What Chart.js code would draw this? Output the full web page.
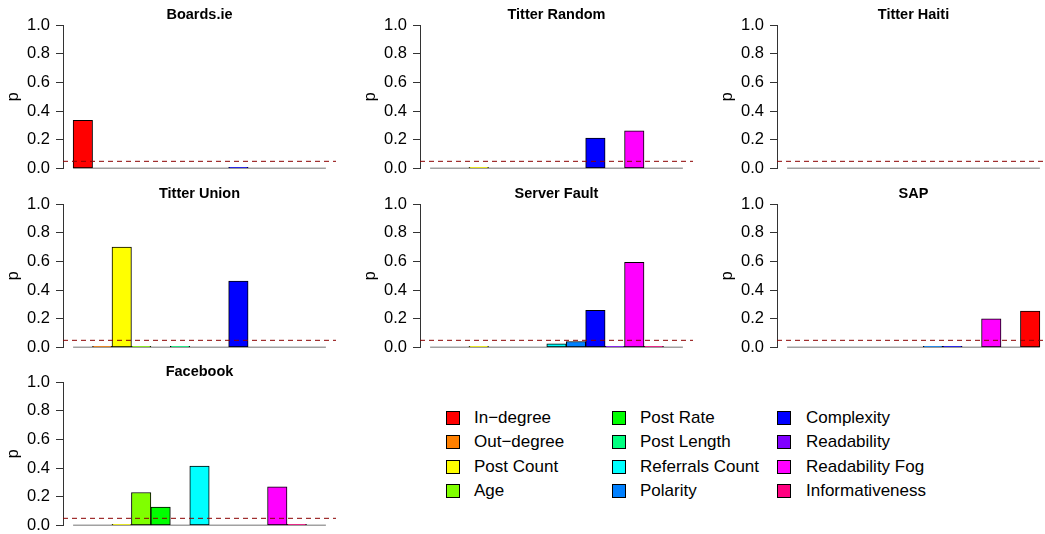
<!DOCTYPE html>
<html lang="en">
<head>
    <meta charset="UTF-8">
    <title>p values per dataset</title>
    <script src="https://cdn.jsdelivr.net/npm/chart.js@4/dist/chart.umd.min.js"></script>
    <style>
        body { margin: 0; width: 1045px; height: 534px; overflow: hidden; background: #fff; position: relative;
               font-family: 'Liberation Sans', Arial, sans-serif; }
        .panel { position: absolute; width: 335px; height: 182px; }
        .sw { position: absolute; width: 12px; height: 12px; border: 1px solid #000; }
        .lab { position: absolute; font-size: 17px; line-height: 20px; color: #000; white-space: nowrap; }
    </style>
</head>
<body>
    <div id="legend"></div>

    <script>
        // features (legend order) and their rainbow colours
        const features = ['In\u2212degree', 'Out\u2212degree', 'Post Count', 'Age', 'Post Rate', 'Post Length',
                          'Referrals Count', 'Polarity', 'Complexity', 'Readability', 'Readability Fog', 'Informativeness'];
        const colors = ['#FF0000', '#FF8000', '#FFFF00', '#80FF00', '#00FF00', '#00FF80',
                        '#00FFFF', '#0080FF', '#0000FF', '#8000FF', '#FF00FF', '#FF0080'];

        // p values, 13 bars per panel (colours recycle for the last one)
        const boardsIe     = [0.335, 0, 0, 0, 0, 0, 0, 0, 0.004, 0, 0, 0, 0];
        const titterRandom = [0, 0, 0.004, 0, 0, 0, 0, 0, 0.212, 0, 0.263, 0, 0];
        const titterHaiti  = [0, 0, 0, 0, 0, 0, 0, 0, 0, 0, 0, 0, 0];
        const titterUnion  = [0, 0.004, 0.70, 0.006, 0, 0.004, 0, 0, 0.463, 0, 0, 0, 0];
        const serverFault  = [0, 0, 0.004, 0, 0, 0, 0.025, 0.042, 0.259, 0.004, 0.593, 0.004, 0];
        const sap          = [0, 0, 0, 0, 0, 0, 0, 0.003, 0.003, 0, 0.20, 0, 0.253];
        const facebook     = [0, 0, 0.004, 0.23, 0.128, 0, 0.414, 0, 0, 0, 0.27, 0.004, 0];

        const titles = ['Boards.ie', 'Titter Random', 'Titter Haiti', 'Titter Union', 'Server Fault', 'SAP', 'Facebook'];
        const series = [boardsIe, titterRandom, titterHaiti, titterUnion, serverFault, sap, facebook];
        const yTicks = [0, 0.2, 0.4, 0.6, 0.8, 1.0];
        const threshold = 0.05;

        // panel placement (canvas top-left)
        const colLeft = [1, 358, 715];
        const rowTop = [4, 183, 361];

        const FONT = "'Liberation Sans', Arial, sans-serif";

        series.forEach((vals, k) => {
            const div = document.createElement('div');
            div.className = 'panel';
            div.style.left = colLeft[k % 3] + 'px';
            div.style.top = rowTop[Math.floor(k / 3)] + 'px';
            const cv = document.createElement('canvas');
            div.appendChild(cv);
            document.body.appendChild(div);

            const n = vals.length;
            const pad = n * 0.04;
            new Chart(cv, {
                data: {
                    datasets: [
                        {
                            type: 'line', order: 0,
                            data: [{ x: -pad, y: threshold }, { x: n + pad, y: threshold }],
                            borderColor: '#8b0000', borderWidth: 1, borderDash: [5, 4],
                            pointRadius: 0
                        },
                        {
                            // zero bars collapse onto the baseline, tiny ones show as a black sliver
                            type: 'bar', order: 1,
                            data: vals.map((v, i) => ({ x: i + 0.5, y: v > 0 ? v : null })),
                            backgroundColor: vals.map((v, i) => colors[i % colors.length]),
                            borderColor: '#000', borderWidth: 1, borderSkipped: false,
                            minBarLength: 1.2,
                            barPercentage: 1, categoryPercentage: 1
                        },
                        {
                            type: 'line', order: 2,
                            data: [{ x: 0, y: 0 }, { x: n, y: 0 }],
                            borderColor: '#444', borderWidth: 1.5, pointRadius: 0
                        }
                    ]
                },
                options: {
                    responsive: true, maintainAspectRatio: false, animation: false,
                    layout: { padding: { top: 0, right: 0, bottom: 17.5, left: 0 } },
                    plugins: {
                        legend: { display: false },
                        tooltip: { enabled: false },
                        title: {
                            display: true, text: titles[k], fullSize: false, color: '#000',
                            font: { family: FONT, size: 14.5, weight: 'bold' },
                            padding: { top: 2, bottom: 1.6 }
                        }
                    },
                    scales: {
                        x: {
                            type: 'linear', display: false, offset: false,
                            min: -pad, max: n + pad,
                            afterBuildTicks: s => { s.ticks = []; }
                        },
                        y: {
                            min: 0, max: 1,
                            afterBuildTicks: s => { s.ticks = yTicks.map(v => ({ value: v })); },
                            afterFit: s => { s.width = 62; },
                            border: { display: true, color: '#333', width: 1 },
                            grid: { drawOnChartArea: false, drawTicks: true, tickLength: 7, color: '#333' },
                            ticks: {
                                color: '#000', padding: 6,
                                font: { family: FONT, size: 16.5 },
                                callback: v => v.toFixed(1)
                            },
                            title: {
                                display: true, text: 'p', color: '#000',
                                font: { family: FONT, size: 16 },
                                padding: { top: 3, bottom: 0 }
                            }
                        }
                    }
                }
            });
        });

        // legend, three columns of four
        const swLeft = [446, 612, 777];
        const txLeft = [474, 640, 806];
        const legend = document.getElementById('legend');
        features.forEach((f, i) => {
            const c = Math.floor(i / 4), r = i % 4;
            const cy = 418 + r * 24.3;
            const sw = document.createElement('div');
            sw.className = 'sw';
            sw.style.left = swLeft[c] + 'px';
            sw.style.top = (cy - 7) + 'px';
            sw.style.background = colors[i];
            legend.appendChild(sw);
            const t = document.createElement('div');
            t.className = 'lab';
            t.textContent = f;
            t.style.left = txLeft[c] + 'px';
            t.style.top = (cy - 10) + 'px';
            legend.appendChild(t);
        });
    </script>
</body>
</html>
